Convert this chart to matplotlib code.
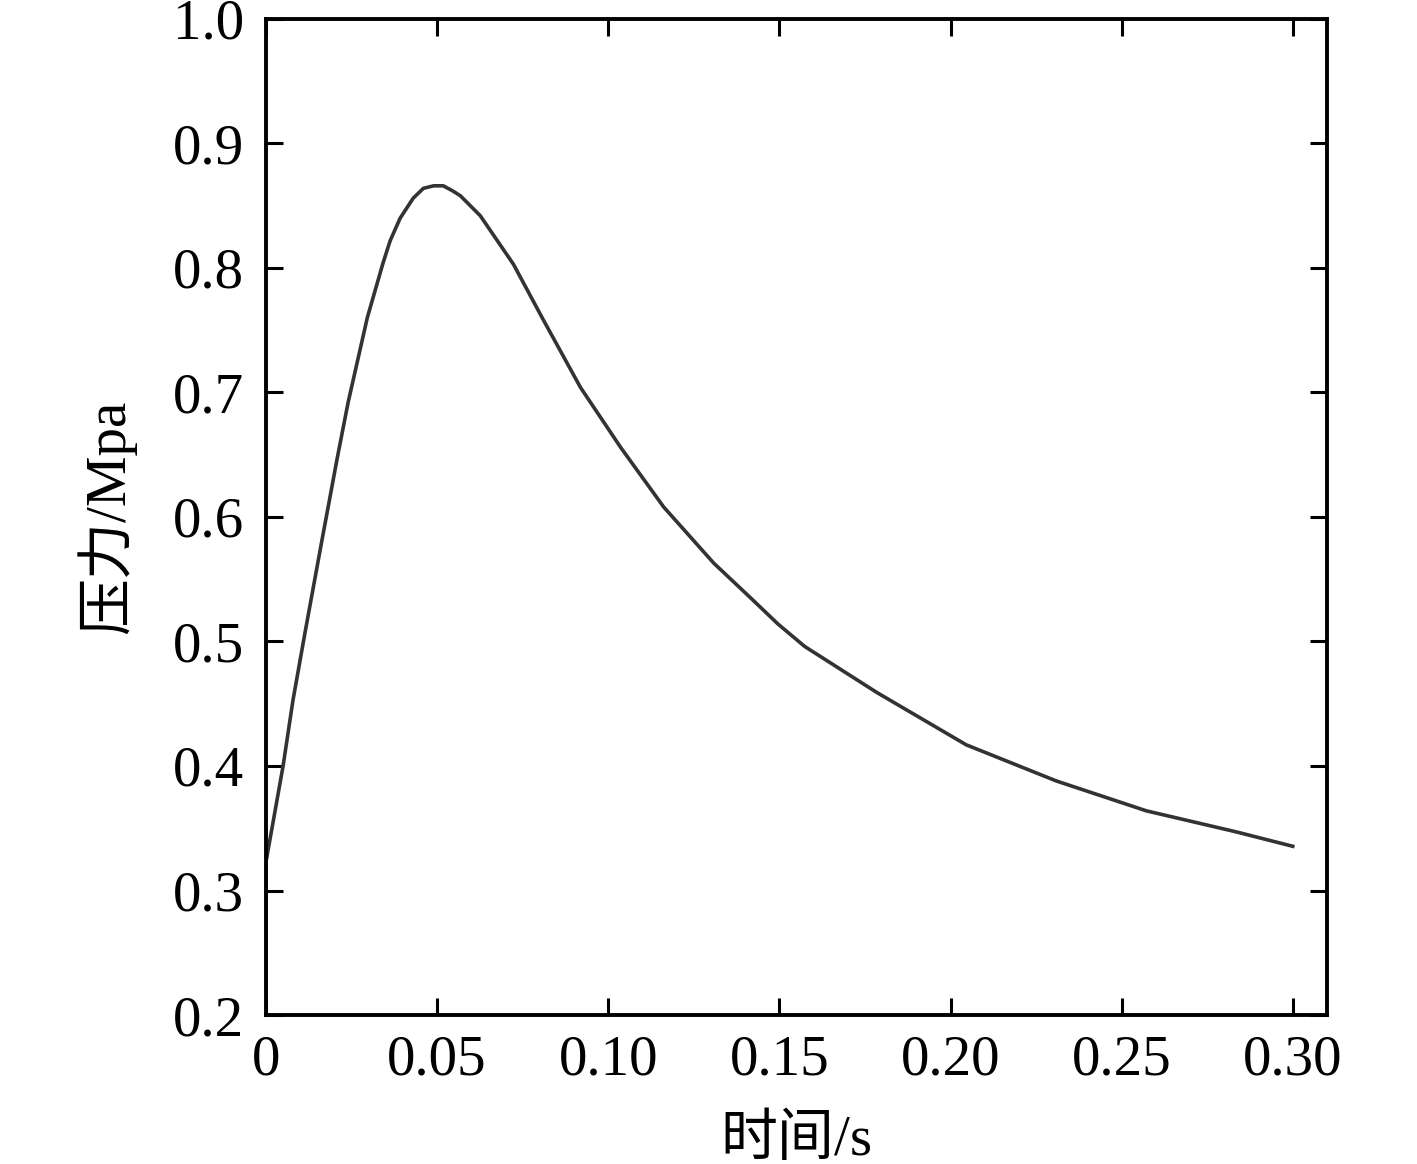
import matplotlib.pyplot as plt
import numpy as np

# pressure vs time
time_s = [0.0, 0.0, 0.005, 0.0079, 0.0114, 0.0138, 0.0164, 0.0181, 0.0208,
          0.024, 0.0296, 0.0342, 0.0363, 0.0392, 0.043, 0.046, 0.049, 0.0518,
          0.0545, 0.0568, 0.0626, 0.0723, 0.0811, 0.0919, 0.1036, 0.1162,
          0.1308, 0.1416, 0.1496, 0.1574, 0.1785, 0.2046, 0.2309, 0.2572,
          0.2836, 0.30]
pressure = [0.2, 0.323, 0.400, 0.453, 0.507, 0.543, 0.582, 0.607, 0.647,
            0.692, 0.760, 0.804, 0.822, 0.840, 0.856, 0.864, 0.866, 0.866,
            0.862, 0.858, 0.842, 0.803, 0.758, 0.704, 0.656, 0.608,
            0.563, 0.535, 0.514, 0.496, 0.459, 0.417, 0.388, 0.364,
            0.347, 0.3355]

xticks = [0, 0.05, 0.10, 0.15, 0.20, 0.25, 0.30]
xticklabels = ['0', '0.05', '0.10', '0.15', '0.20', '0.25', '0.30']
yticks = [0.2, 0.3, 0.4, 0.5, 0.6, 0.7, 0.8, 0.9, 1.0]
yticklabels = ['0.2', '0.3', '0.4', '0.5', '0.6', '0.7', '0.8', '0.9', '1.0']

fonts = ['Liberation Serif', 'Noto Sans CJK SC']
plt.rcParams['font.family'] = fonts

fig = plt.figure(figsize=(14.17, 11.64), dpi=100)
ax = fig.add_axes([0.1877, 0.128, 0.7488, 0.8557])

ax.plot(time_s, pressure, color='#333333', lw=2.6)

ax.set_xlim(0, 0.31)
ax.set_ylim(0.2, 1.0)
ax.set_xticks(xticks)
ax.set_xticklabels(xticklabels)
ax.set_yticks(yticks)
ax.set_yticklabels(yticklabels)

ax.tick_params(direction='in', length=12, width=2.2, top=True, right=True,
               labelsize=41)
ax.tick_params(axis='x', pad=14)
ax.tick_params(axis='y', pad=16)
for sp in ax.spines.values():
    sp.set_linewidth(2.8)

ax.set_xlabel('时间/s', fontsize=41, labelpad=20)
ax.set_ylabel('压力/Mpa', fontsize=41, labelpad=26)

fig.savefig('out.png', dpi=100)
